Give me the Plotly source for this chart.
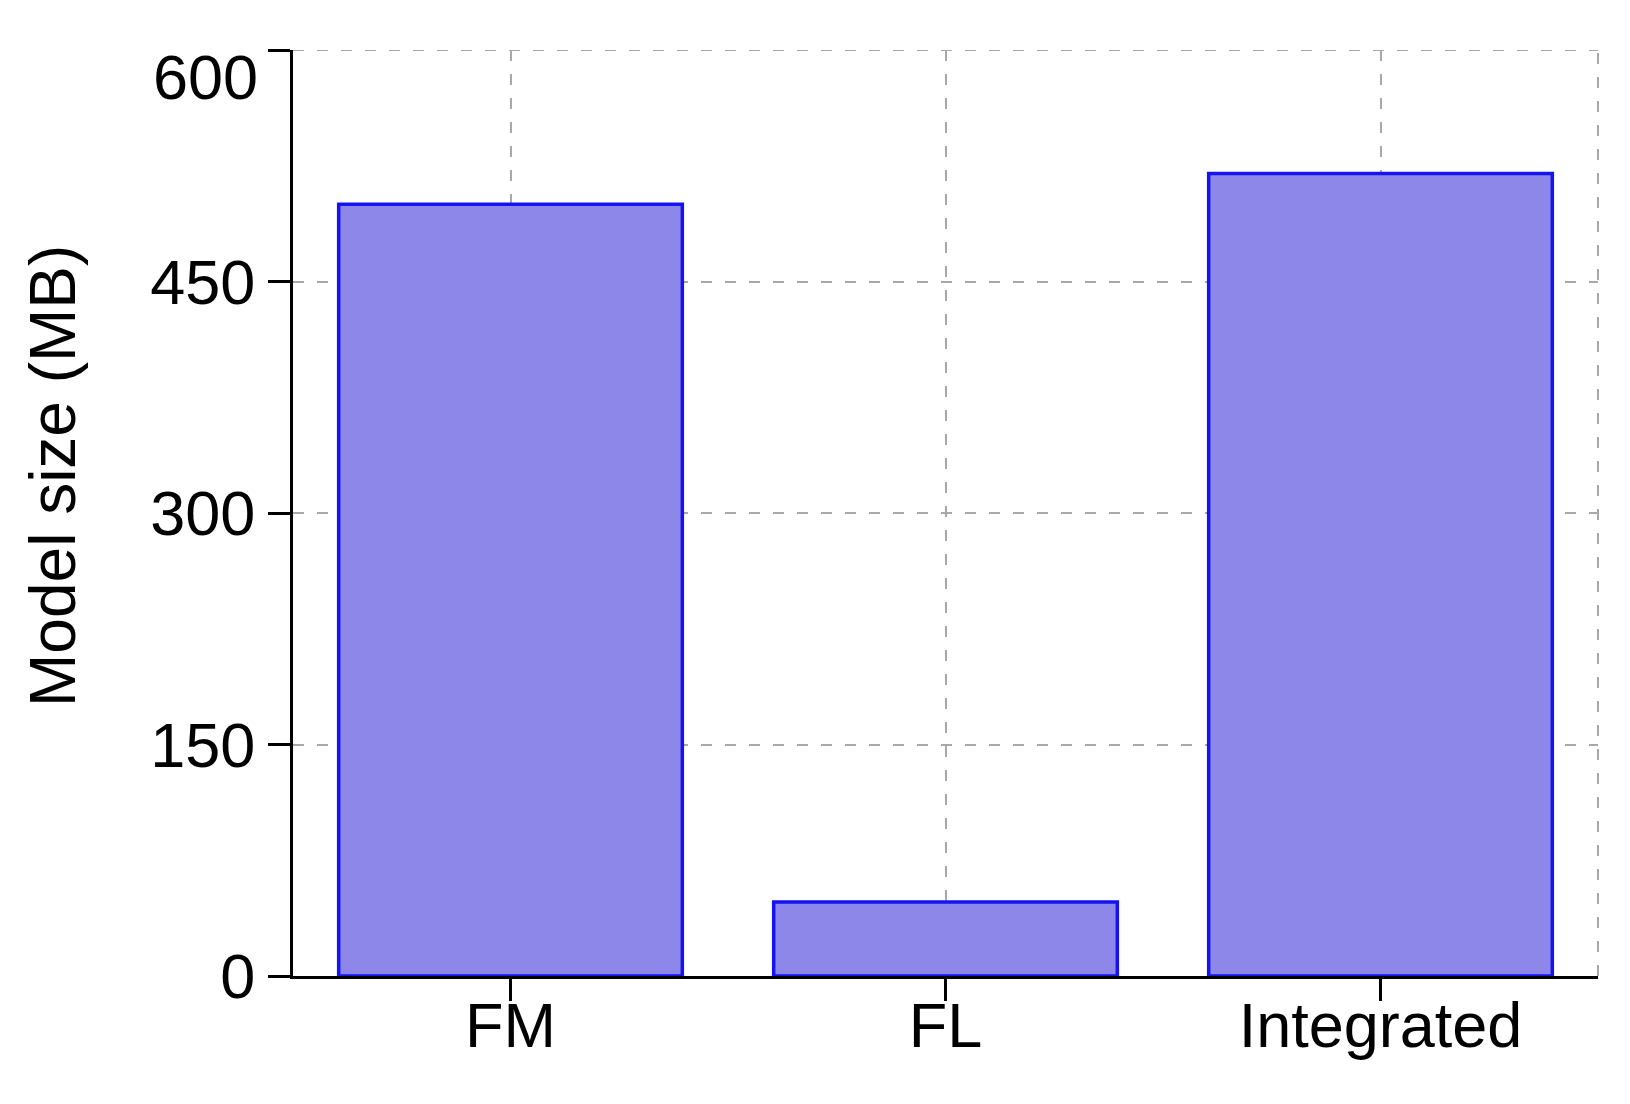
import plotly.graph_objects as go

categories = ["FM", "FL", "Integrated"]
model_size_mb = [500, 48, 520]
y_ticks = [0, 150, 300, 450, 600]
y_tick_text = ["0", "150", "300", "450", ""]
top_tick_label = "600"
y_title = "Model size (MB)"

FONT = "Liberation Sans, Arial, sans-serif"
FS = 63
GRID = "#a8a8a8"
DASH = "11px,13px"

fig = go.Figure()
fig.add_trace(go.Bar(
    x=categories,
    y=model_size_mb,
    width=0.79,
    marker=dict(color="rgb(141,135,234)", line=dict(color="#1414f0", width=3.5)),
))

# dashed frame lines on top and right
fig.add_shape(type="line", xref="paper", yref="paper", x0=1, x1=1, y0=0, y1=1,
              line=dict(color=GRID, width=2, dash=DASH), layer="below")
fig.add_shape(type="line", xref="paper", yref="y", x0=0, x1=1, y0=600, y1=600,
              line=dict(color=GRID, width=2, dash=DASH), layer="below")

# top tick label (nudged down as in reference)
fig.add_annotation(x=0, xref="paper", y=y_ticks[-1], yref="y", text=top_tick_label,
                   showarrow=False, xanchor="right", yanchor="middle",
                   xshift=-33, yshift=-27, font=dict(family=FONT, size=FS, color="black"))

# y-axis title
fig.add_annotation(x=0, xref="paper", y=0.54, yref="paper", text=y_title,
                   showarrow=False, textangle=-90, xanchor="center", yanchor="middle",
                   xshift=-240, font=dict(family=FONT, size=FS + 1, color="black"))

fig.update_layout(
    width=1614, height=1088,
    margin=dict(l=285, r=24, t=42, b=120),
    plot_bgcolor="white", paper_bgcolor="white",
    showlegend=False,
    font=dict(family=FONT, size=FS, color="black"),
    xaxis=dict(
        range=[-0.5, 2.5],
        showline=True, linecolor="black", linewidth=3,
        ticks="outside", ticklen=22, tickwidth=3, tickcolor="black",
        showgrid=True, gridcolor=GRID, gridwidth=2, griddash=DASH,
        tickfont=dict(size=FS),
        ticklabelstandoff=-30,
    ),
    yaxis=dict(
        range=[0, 600],
        tickvals=y_ticks, ticktext=y_tick_text,
        showline=True, linecolor="black", linewidth=3,
        ticks="outside", ticklen=22, tickwidth=3, tickcolor="black",
        showgrid=True, gridcolor=GRID, gridwidth=2, griddash=DASH,
        zeroline=False,
        tickfont=dict(size=FS),
    ),
)

fig.write_html("out.html")
